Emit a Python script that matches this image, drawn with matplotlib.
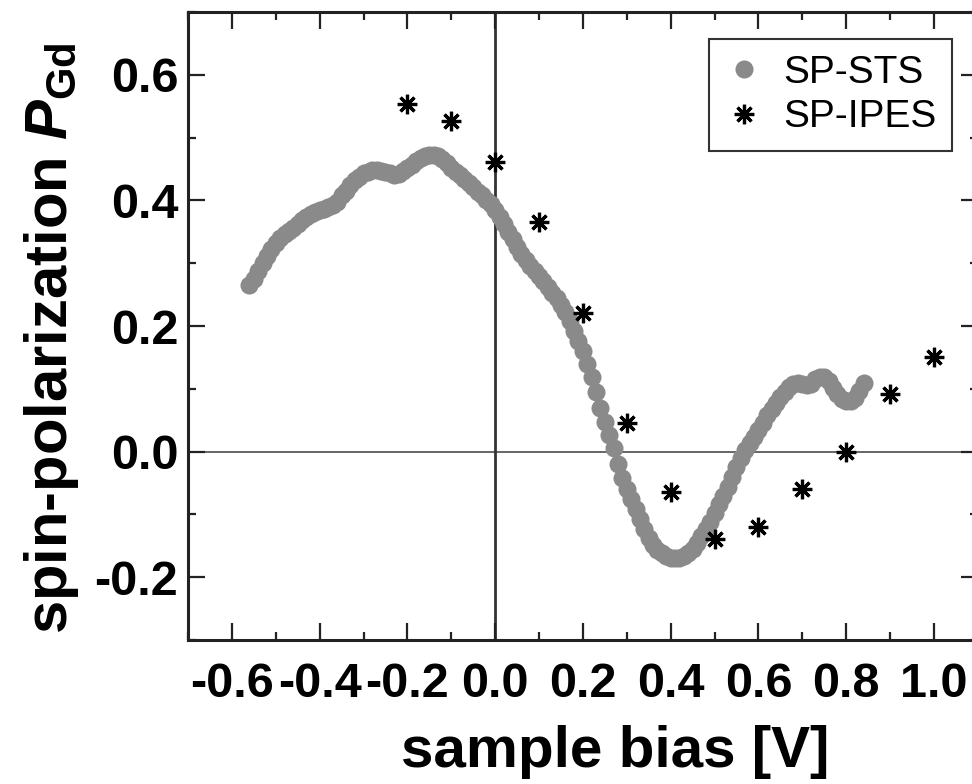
import matplotlib
matplotlib.use('Agg')
import matplotlib.pyplot as plt
from matplotlib.ticker import MultipleLocator

plt.rcParams['font.family'] = ['Liberation Sans', 'DejaVu Sans']
plt.rcParams['mathtext.fontset'] = 'custom'
plt.rcParams['mathtext.rm'] = 'Liberation Sans:bold'
plt.rcParams['mathtext.bf'] = 'Liberation Sans:bold'
plt.rcParams['mathtext.it'] = 'Liberation Sans:bold:italic'

# SP-STS curve
sts_bias = [-0.56, -0.55, -0.54, -0.53, -0.52, -0.51, -0.50, -0.49, -0.48, -0.47,
            -0.46, -0.45, -0.44, -0.43, -0.42, -0.41, -0.40, -0.39, -0.38, -0.37,
            -0.36, -0.35, -0.34, -0.33, -0.32, -0.31, -0.30, -0.29, -0.28, -0.27,
            -0.26, -0.25, -0.24, -0.23, -0.22, -0.21, -0.20, -0.19, -0.18, -0.17,
            -0.16, -0.15, -0.14, -0.13, -0.12, -0.11, -0.10, -0.09, -0.08, -0.07,
            -0.06, -0.05, -0.04, -0.03, -0.02, -0.01, 0.00, 0.01, 0.02, 0.03,
            0.04, 0.05, 0.06, 0.07, 0.08, 0.09, 0.10, 0.11, 0.12, 0.13,
            0.14, 0.15, 0.16, 0.17, 0.18, 0.19, 0.20, 0.21, 0.22, 0.23,
            0.24, 0.25, 0.26, 0.27, 0.28, 0.29, 0.30, 0.31, 0.32, 0.33,
            0.34, 0.35, 0.36, 0.37, 0.38, 0.39, 0.40, 0.41, 0.42, 0.43,
            0.44, 0.45, 0.46, 0.47, 0.48, 0.49, 0.50, 0.51, 0.52, 0.53,
            0.54, 0.55, 0.56, 0.57, 0.58, 0.59, 0.60, 0.61, 0.62, 0.63,
            0.64, 0.65, 0.66, 0.67, 0.68, 0.69, 0.70, 0.71, 0.72, 0.73,
            0.74, 0.75, 0.76, 0.77, 0.78, 0.79, 0.80, 0.81, 0.82, 0.83, 0.84]
sts_pol = [0.266, 0.275, 0.288, 0.300, 0.312, 0.322, 0.332, 0.340, 0.347, 0.352,
           0.356, 0.362, 0.368, 0.373, 0.378, 0.381, 0.384, 0.387, 0.390, 0.393,
           0.398, 0.408, 0.415, 0.424, 0.432, 0.438, 0.443, 0.446, 0.448, 0.448,
           0.447, 0.446, 0.443, 0.440, 0.442, 0.447, 0.452, 0.457, 0.462, 0.467,
           0.471, 0.473, 0.473, 0.471, 0.466, 0.459, 0.452, 0.446, 0.440, 0.434,
           0.428, 0.421, 0.414, 0.408, 0.401, 0.394, 0.385, 0.374, 0.362, 0.350,
           0.338, 0.326, 0.315, 0.305, 0.296, 0.288, 0.280, 0.271, 0.262, 0.253,
           0.244, 0.234, 0.222, 0.208, 0.192, 0.176, 0.160, 0.140, 0.118, 0.095,
           0.070, 0.047, 0.027, 0.006, -0.020, -0.042, -0.060, -0.076, -0.092, -0.108,
           -0.124, -0.138, -0.148, -0.156, -0.162, -0.166, -0.169, -0.170, -0.170, -0.167,
           -0.162, -0.155, -0.146, -0.135, -0.124, -0.112, -0.098, -0.084, -0.070, -0.056,
           -0.040, -0.025, -0.010, 0.002, 0.013, 0.024, 0.034, 0.046, 0.058, 0.068,
           0.078, 0.087, 0.095, 0.103, 0.108, 0.109, 0.108, 0.106, 0.108, 0.115,
           0.119, 0.119, 0.112, 0.101, 0.092, 0.084, 0.080, 0.081, 0.086, 0.096, 0.109]

# SP-IPES points
ipes_bias = [-0.2, -0.1, 0.0, 0.1, 0.2, 0.3, 0.4, 0.5, 0.6, 0.7, 0.8, 0.9, 1.0]
ipes_pol = [0.554, 0.527, 0.461, 0.365, 0.221, 0.045, -0.064, -0.139, -0.120, -0.059, 0.000, 0.091, 0.150]

fig = plt.figure(figsize=(9.72, 7.84), dpi=100)
# right spine sits just outside the picture in the reference
ax = fig.add_axes([188/972, 144/784, 789.75/972, 628/784])

ax.axhline(0, color='#666666', lw=1.4, zorder=1)
ax.axvline(0, color='#333333', lw=2.0, zorder=1)

ax.plot(sts_bias, sts_pol, 'o', color='#8a8a8a', ms=13, mec='none', label='SP-STS', zorder=2)
ax.plot(ipes_bias, ipes_pol, ls='none', marker=(8, 2, 0), color='black', ms=14, mew=2.3,
        label='SP-IPES', zorder=3)

ax.set_xlim(-0.7, 1.1)
ax.set_ylim(-0.3, 0.7)

ax.xaxis.set_minor_locator(MultipleLocator(0.1))
ax.yaxis.set_minor_locator(MultipleLocator(0.1))
ax.set_xticks([-0.6, -0.4, -0.2, 0.0, 0.2, 0.4, 0.6, 0.8, 1.0])
ax.set_xticklabels(['-0.6', '-0.4', '-0.2', '0.0', '0.2', '0.4', '0.6', '0.8', '1.0'])
ax.set_yticks([-0.2, 0.0, 0.2, 0.4, 0.6])
ax.set_yticklabels(['-0.2', '0.0', '0.2', '0.4', '0.6'])

ax.tick_params(which='both', direction='in', top=True, right=True, width=1.6, color='#222222')
ax.tick_params(which='major', length=12)
ax.tick_params(which='minor', length=6)
ax.tick_params(axis='x', pad=16)
ax.tick_params(axis='y', pad=7)
for lab in ax.get_xticklabels() + ax.get_yticklabels():
    lab.set_fontsize(35)
    lab.set_fontweight('bold')

for s in ax.spines.values():
    s.set_linewidth(2.2)
    s.set_color('#222222')

ax.set_xlabel('sample bias [V]', fontsize=42, fontweight='bold')
ax.set_ylabel('spin-polarization $P_{\\mathrm{Gd}}$', fontsize=43, fontweight='bold')
ax.xaxis.set_label_coords(0.541, -0.135)
ax.yaxis.set_label_coords(-0.135, 0.48)

leg = ax.legend(loc='upper right', bbox_to_anchor=(0.967, 0.957), borderaxespad=0,
                fontsize=28, fancybox=False, edgecolor='#333333', framealpha=1,
                handletextpad=0.5, borderpad=0.4, labelspacing=0.22, handlelength=1.0)
leg.get_frame().set_linewidth(1.5)

plt.savefig('out.png', dpi=100)
